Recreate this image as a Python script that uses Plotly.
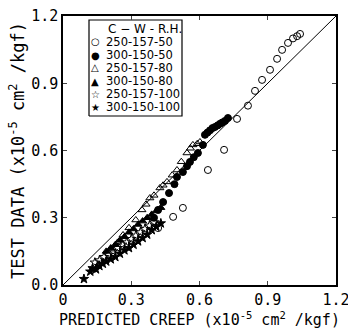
import plotly.graph_objects as go

# ---- data (x = predicted creep, y = test data), units x10^-5 cm^2/kgf ----
series_names = ["250-157-50", "300-150-50", "250-157-80", "300-150-80", "250-157-100", "300-150-100"]

oc_x = [0.418, 0.484, 0.527, 0.637, 0.708, 0.765, 0.813, 0.844, 0.875, 0.910, 0.941, 0.963, 0.989, 1.011, 1.029, 1.042]
oc_y = [0.254, 0.304, 0.344, 0.513, 0.603, 0.741, 0.800, 0.866, 0.915, 0.960, 1.009, 1.049, 1.080, 1.100, 1.110, 1.120]

fc_x = [0.40, 0.418, 0.44, 0.466, 0.49, 0.501, 0.527, 0.545, 0.558, 0.575, 0.593, 0.615, 0.624, 0.635, 0.646, 0.657, 0.668, 0.68, 0.69, 0.70, 0.712, 0.725]
fc_y = [0.30, 0.335, 0.37, 0.41, 0.45, 0.482, 0.504, 0.53, 0.549, 0.57, 0.589, 0.625, 0.67, 0.68, 0.69, 0.70, 0.705, 0.712, 0.719, 0.725, 0.732, 0.745]

ot_x = [0.21, 0.24, 0.264, 0.29, 0.32, 0.347, 0.365, 0.382, 0.40, 0.426, 0.44, 0.457, 0.48, 0.501, 0.52, 0.545, 0.56, 0.571, 0.59, 0.602]
ot_y = [0.16, 0.19, 0.223, 0.255, 0.29, 0.335, 0.36, 0.388, 0.40, 0.433, 0.445, 0.46, 0.49, 0.513, 0.55, 0.589, 0.61, 0.625, 0.63, 0.638]

ft_x = [0.19, 0.21, 0.23, 0.25, 0.27, 0.29, 0.31, 0.33, 0.35, 0.37, 0.39, 0.41, 0.43]
ft_y = [0.15, 0.165, 0.18, 0.20, 0.215, 0.235, 0.25, 0.27, 0.285, 0.30, 0.315, 0.33, 0.345]

os_x = [0.14, 0.16, 0.18, 0.20, 0.22, 0.24, 0.26, 0.28, 0.30, 0.32, 0.34, 0.36, 0.38, 0.40]
os_y = [0.10, 0.11, 0.125, 0.135, 0.15, 0.165, 0.18, 0.19, 0.205, 0.22, 0.235, 0.25, 0.265, 0.28]

fs_x = [0.092, 0.12, 0.13, 0.145, 0.16, 0.175, 0.19, 0.21, 0.23, 0.25, 0.27, 0.29, 0.31, 0.33, 0.35, 0.37, 0.39, 0.41, 0.43]
fs_y = [0.027, 0.06, 0.075, 0.07, 0.085, 0.095, 0.105, 0.115, 0.125, 0.14, 0.155, 0.165, 0.18, 0.195, 0.21, 0.225, 0.245, 0.26, 0.275]

tick_vals = [0, 0.3, 0.6, 0.9, 1.2]
x_tick_text = ["0", "0.3", "0.6", "0.9", "1.2"]
y_tick_text = ["0.0", "0.3", "0.6", "0.9", "1.2"]
line_x = [0, 1.2]
line_y = [0, 1.2]

FONT = "DejaVu Sans Mono"
LFONT = "DejaVu Sans"
symbols = ["circle-open", "circle", "triangle-up-open", "triangle-up", "star-open", "star"]
legend_glyphs = ["○", "●", "△", "▲", "☆", "★"]
xs = [oc_x, fc_x, ot_x, ft_x, os_x, fs_x]
ys = [oc_y, fc_y, ot_y, ft_y, os_y, fs_y]

W, H = 348, 331
L, R, T, B = 63, 12, 16, 46
pw, ph = W - L - R, H - T - B
XMAX = YMAX = 1.2
def px(x):
    return (x - L) / pw
def py(y):
    return (H - B - y) / ph

fig = go.Figure()
fig.add_trace(go.Scatter(x=line_x, y=line_y, mode="lines",
                         line=dict(color="black", width=1), showlegend=False, hoverinfo="skip"))
for name, sx, sy, sym in zip(series_names, xs, ys, symbols):
    fig.add_trace(go.Scatter(x=sx, y=sy, mode="markers", name=name, showlegend=False,
                             marker=dict(symbol=sym, size=7, color="black",
                                         line=dict(color="black", width=1))))

# legend frame (pixel layout converted to axis units)
bx0, bx1 = px(89) * XMAX, px(182) * XMAX
by0, by1 = py(116) * YMAX, py(20) * YMAX
fig.add_trace(go.Scatter(x=[bx0, bx1, bx1, bx0, bx0], y=[by0, by0, by1, by1, by0], mode="lines",
                         line=dict(color="black", width=1.2), showlegend=False, hoverinfo="skip"))

annotations = [dict(xref="paper", yref="paper", x=px(145), y=py(29), text="C − W - R.H.",
                    showarrow=False, font=dict(family=LFONT, size=12, color="black"),
                    xanchor="center", yanchor="middle")]
leg_rows = [42, 55, 68, 81, 94, 107]
for name, glyph, r in zip(series_names, legend_glyphs, leg_rows):
    annotations.append(dict(xref="paper", yref="paper", x=px(95), y=py(r), text=glyph,
                            showarrow=False, font=dict(family=LFONT, size=10, color="black"),
                            xanchor="center", yanchor="middle"))
    annotations.append(dict(xref="paper", yref="paper", x=px(104), y=py(r), text=name,
                            showarrow=False, font=dict(family=LFONT, size=11.5, color="black"),
                            xanchor="left", yanchor="middle"))

fig.update_layout(
    width=W, height=H,
    margin=dict(l=L, r=R, t=T, b=B),
    plot_bgcolor="white", paper_bgcolor="white",
    font=dict(family=FONT, size=14, color="black"),
    showlegend=False,
    annotations=annotations,
    xaxis=dict(range=[0, XMAX], tickvals=tick_vals, ticktext=x_tick_text, ticks="inside", ticklen=4,
               showgrid=False, zeroline=False, showline=True, linecolor="black", linewidth=1.5,
               mirror="allticks", tickfont=dict(family=FONT, size=15), automargin=False,
               ticklabeloverflow="allow",
               title=dict(text="PREDICTED CREEP (x10<sup>-5</sup> cm<sup>2</sup> /kgf)",
                          font=dict(family=FONT, size=15), standoff=2)),
    yaxis=dict(range=[0, YMAX], tickvals=tick_vals, ticktext=y_tick_text, ticks="inside", ticklen=4,
               showgrid=False, zeroline=False, showline=True, linecolor="black", linewidth=1.5,
               mirror="allticks", tickfont=dict(family=FONT, size=15), automargin=False,
               ticklabeloverflow="allow",
               title=dict(text="TEST DATA (x10<sup>-5</sup> cm<sup>2</sup> /kgf)",
                          font=dict(family=FONT, size=17), standoff=2)),
)

fig.write_html("out.html", config={"displayModeBar": False},
               post_script="document.body.style.margin='0';document.body.style.overflow='hidden';")
